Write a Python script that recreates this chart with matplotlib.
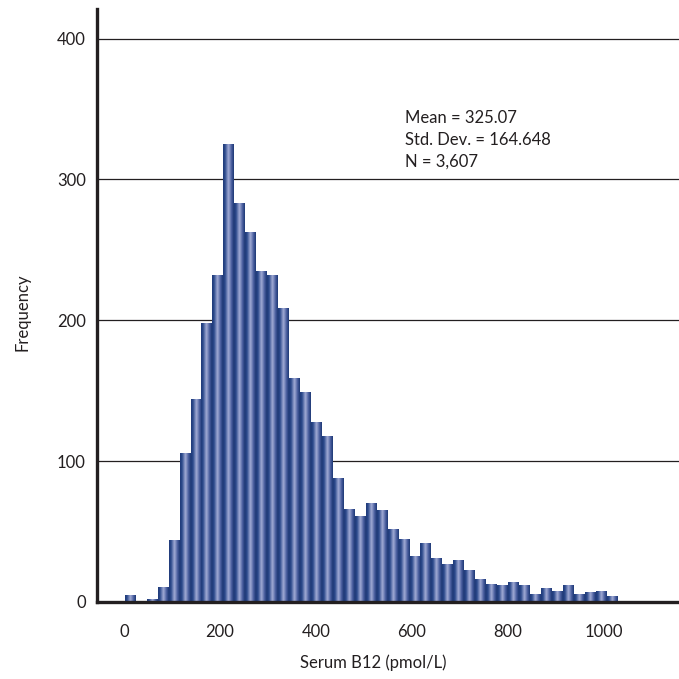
import numpy as np
import matplotlib
matplotlib.use("Agg")
import matplotlib.pyplot as plt
from matplotlib.colors import LinearSegmentedColormap

# ---- data ----
bin_start = 2.0
bin_width = 22.8
counts = [5, 0, 2, 11, 44, 106, 144, 198, 232, 325, 283, 263, 235, 232, 209,
          159, 149, 128, 118, 88, 66, 61, 70, 65, 52, 45, 33, 42, 31, 27,
          30, 23, 16, 13, 12, 14, 12, 6, 10, 8, 12, 6, 7, 8, 4]
xticks = [0, 200, 400, 600, 800, 1000]
yticks = [0, 100, 200, 300, 400]
stats_text = "Mean = 325.07\nStd. Dev. = 164.648\nN = 3,607"
xlabel = "Serum B12 (pmol/L)"
ylabel = "Frequency"

plt.rcParams['font.family'] = ['Lato', 'DejaVu Sans']
ink = "#231f20"
fs = 12

fig = plt.figure(figsize=(6.79, 6.79), dpi=100)
ax = fig.add_axes([97 / 679, 1 - 602 / 679, 1 - 97 / 679, (602 - 9) / 679])

edges = bin_start + bin_width * np.arange(len(counts) + 1)
bars = ax.bar(edges[:-1], counts, width=bin_width, align='edge',
              color='none', edgecolor='none', zorder=2)

cmap = LinearSegmentedColormap.from_list(
    "cyl", [(0.0, "#1f3a78"), (0.18, "#2c4a8c"), (0.5, "#a3acd6"),
            (0.78, "#4a5f9f"), (1.0, "#1d3874")])
grad = np.linspace(0, 1, 64).reshape(1, -1)
for p in bars:
    x0, y0 = p.get_x(), p.get_y()
    w, h = p.get_width(), p.get_height()
    if h <= 0:
        continue
    im = ax.imshow(grad, extent=[x0, x0 + w, y0, y0 + h], aspect='auto',
                   cmap=cmap, interpolation='bilinear', zorder=2)
    im.set_clip_path(p)

ax.set_xlim(-56, 1156)
ax.set_ylim(0, 421)
ax.set_yticks(yticks)
ax.set_xticks(xticks)
ax.grid(axis='y', color=ink, linewidth=0.9, zorder=0)
ax.set_axisbelow(True)
ax.tick_params(length=0, labelsize=fs, colors=ink)
ax.tick_params(axis='y', pad=8)
ax.tick_params(axis='x', pad=16)

for s in ['top', 'right']:
    ax.spines[s].set_visible(False)
for s in ['left', 'bottom']:
    ax.spines[s].set_linewidth(2.4)
    ax.spines[s].set_color(ink)
    ax.spines[s].set_zorder(3)

fig.text(373 / 679, 1 - 663 / 679, xlabel, fontsize=fs, color=ink,
         ha='center', va='center')
fig.text(22 / 679, 1 - 312 / 679, ylabel, fontsize=fs, color=ink,
         ha='center', va='center', rotation=90)

fig.text(405 / 679, 1 - 110 / 679, stats_text, fontsize=fs, color=ink,
         va='top', ha='left', linespacing=1.45)

fig.savefig("out.png", dpi=100, facecolor='white')
